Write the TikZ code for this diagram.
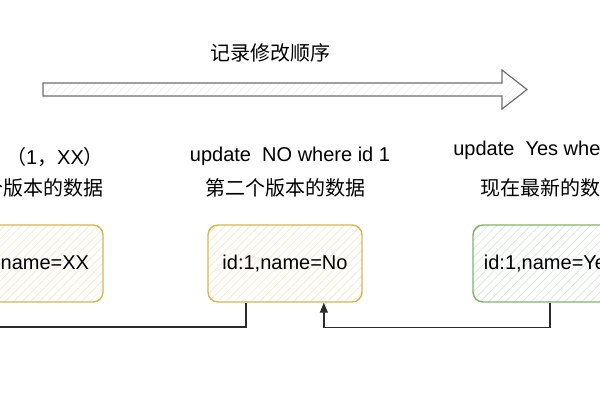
\documentclass[tikz,border=0pt]{standalone}
\usepackage{fontspec}
\setmainfont{Liberation Sans}
\newfontfamily\cjk{Noto Sans CJK SC}
\usetikzlibrary{patterns.meta,arrows.meta,calc}
\definecolor{ylwline}{HTML}{D6B656}
\definecolor{ylwhatch}{HTML}{F7E7C2}
\definecolor{grnline}{HTML}{82B366}
\definecolor{grnhatch}{HTML}{D5E8D4}
\definecolor{arrline}{HTML}{6E6E6E}
\definecolor{arrhatch}{HTML}{EEEEEE}
\definecolor{connc}{HTML}{2B2B2B}
\tikzset{
  recbox/.style={rounded corners=7.5pt, minimum width=115.5pt, minimum height=57.75pt,
    inner sep=0pt, line width=1.1pt, font=\fontsize{15}{18}\selectfont},
  ybox/.style={recbox, draw=ylwline,
    pattern={Lines[angle=45,distance=4.5pt,line width=0.5pt]}, pattern color=ylwhatch},
  gbox/.style={recbox, draw=grnline,
    pattern={Lines[angle=45,distance=4.5pt,line width=0.5pt]}, pattern color=grnhatch},
  lbl/.style={inner sep=0pt, font=\fontsize{15}{18}\selectfont},
  conn/.style={draw=connc, line width=1.1pt},
}
\begin{document}
\begin{tikzpicture}[x=0.75pt,y=-0.75pt]
\useasboundingbox (0,0) rectangle (600,400);
\clip (0,0) rectangle (600,400);
% big arrow
\draw[draw=arrline, line width=0.9pt,
  pattern={Lines[angle=45,distance=4pt,line width=0.4pt]}, pattern color=arrhatch]
  (43,83) -- (502,83) -- (502,70) -- (527,89.5) -- (502,109) -- (502,96) -- (43,96) -- cycle;
\node[lbl] (title) at (270,53) {\cjk 记录修改顺序};
% texts
\node[lbl] (tL1) at (55,157) {{\cjk （}1{\cjk ，}XX{\cjk ）}};
\node[lbl, anchor=east] (tL2) at (104,188) {\cjk 个版本的数据};
\node[lbl] (tM1) at (290,156) {update\ \ NO where id 1};
\node[lbl] (tM2) at (285,188) {\cjk 第二个版本的数据};
\node[lbl, anchor=west] (tR1) at (453,150) {update\ \ Yes where id 1};
\node[lbl, anchor=west] (tR2) at (480,188) {\cjk 现在最新的数据};
% boxes
\node[ybox] (boxL) at (26,263.5) {id:1,name=XX};
\node[ybox] (boxM) at (285,263.5) {id:1,name=No};
\node[gbox] (boxR) at (550,263.5) {id:1,name=Yes};
% connectors
\coordinate (leftend) at (-60,327);
\draw[conn] ($(boxM.south west)!0.25!(boxM.south east)$) |- (leftend);
\draw[conn, -{Triangle[length=7.5pt,width=6pt]}] (boxR.south) -- ++(0,25)
  -| ($(boxM.south west)!0.75!(boxM.south east)$);
\end{tikzpicture}
\end{document}
